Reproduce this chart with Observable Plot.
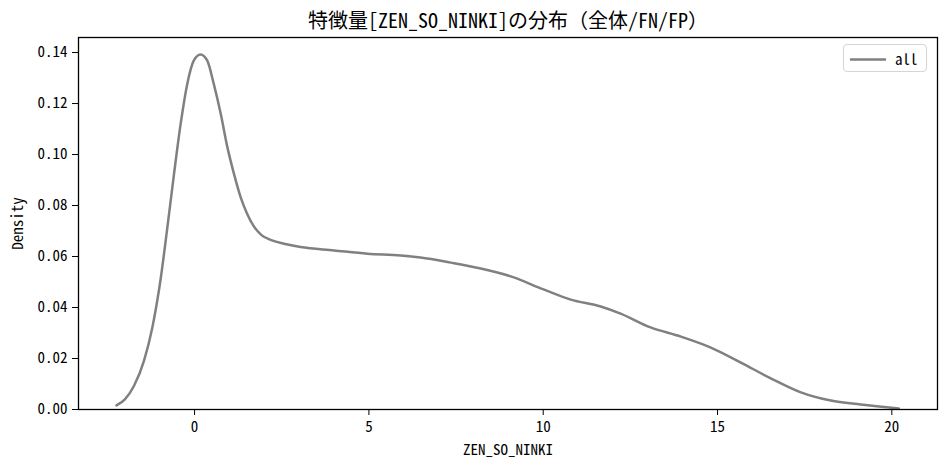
<!DOCTYPE html>
<html>
<head>
<meta charset="utf-8">
<script src="https://cdn.jsdelivr.net/npm/d3@7"></script>
<script src="https://cdn.jsdelivr.net/npm/@observablehq/plot@0.6"></script>
<style>
  html, body { margin: 0; padding: 0; background: #fff; }
  #wrap { position: relative; width: 948px; height: 467px; }
  .mono { font-family: "Noto Sans Mono CJK JP", "DejaVu Sans Mono", "Noto Sans CJK JP", monospace; }
  #legend { position: absolute; left: 843px; top: 44px; width: 84px; height: 28px;
    border: 1px solid #d5d5d5; border-radius: 4px; box-sizing: border-box; background: rgba(255,255,255,0.8); }
  #legend svg { position: absolute; left: 0; top: 0; }
  #legend span { position: absolute; left: 51px; top: 3px; font-size: 15px; color: #000; }
</style>
</head>
<body>
<div id="wrap" class="mono"></div>
<script>
// KDE curve of ZEN_SO_NINKI
const xs = [-2.24, -2.0, -1.74, -1.45, -1.21, -0.98, -0.78, -0.59, -0.40, -0.21, -0.02, 0.17, 0.36, 0.55, 0.75, 0.94, 1.13, 1.32, 1.50, 1.70, 1.92, 2.20, 2.60, 3.04, 4.0, 4.96, 5.91, 6.48, 7.35, 8.21, 9.07, 10.01, 10.79, 11.65, 12.22, 13.08, 13.95, 14.81, 15.67, 16.53, 17.39, 18.25, 19.11, 20.2];
const density = [0.0016, 0.0040, 0.0092, 0.0192, 0.0323, 0.0506, 0.0715, 0.0924, 0.112, 0.1277, 0.1369, 0.1392, 0.1369, 0.1277, 0.116, 0.1029, 0.0924, 0.0833, 0.0770, 0.0718, 0.0684, 0.0664, 0.0649, 0.0637, 0.0624, 0.0611, 0.0604, 0.0596, 0.0576, 0.0553, 0.0522, 0.0471, 0.0431, 0.0404, 0.0376, 0.0322, 0.0286, 0.0243, 0.0184, 0.0122, 0.0067, 0.0035, 0.002, 0.0004];
const xTicks = [0, 5, 10, 15, 20];
const yTicks = [0, 0.02, 0.04, 0.06, 0.08, 0.10, 0.12, 0.14];
const seriesName = "all";
const title = "特徴量[ZEN_SO_NINKI]の分布（全体/FN/FP）";
const xLabel = "ZEN_SO_NINKI";
const yLabel = "Density";

const data = xs.map((x, i) => ({x, y: density[i]}));

const chart = Plot.plot({
  width: 948,
  height: 467,
  marginLeft: 78,
  marginRight: 11,
  marginTop: 37,
  marginBottom: 58,
  style: {fontFamily: '"Noto Sans Mono CJK JP", "DejaVu Sans Mono", "Noto Sans CJK JP", monospace', fontSize: "15px", color: "#000", background: "#fff"},
  x: {domain: [-3.33, 21.31], ticks: xTicks, tickFormat: d => String(d)},
  y: {domain: [0, 0.1459], ticks: yTicks, tickFormat: d3.format(".2f")},
  marks: [
    Plot.axisX({ticks: xTicks, tickSize: 6, tickPadding: 6, label: xLabel, labelAnchor: "center", labelArrow: "none", labelOffset: 45, fontSize: 15}),
    Plot.axisY({ticks: yTicks, tickSize: 6, tickPadding: 5, tickFormat: d3.format(".2f"), label: yLabel, labelAnchor: "center", labelArrow: "none", labelOffset: 66, fontSize: 15}),
    Plot.line(data, {x: "x", y: "y", stroke: "#808080", strokeWidth: 2.5, curve: "monotone-x"}),
    Plot.frame({stroke: "#000", strokeWidth: 1.3}),
    Plot.text([title], {text: d => d, frameAnchor: "top", dy: -24, fontSize: 20, fill: "#000"})
  ]
});
document.getElementById("wrap").appendChild(chart);

const leg = document.createElement("div");
leg.id = "legend";
leg.innerHTML = `<svg width="84" height="28"><line x1="6" x2="42" y1="14.5" y2="14.5" stroke="#808080" stroke-width="2.5"/></svg><span>${seriesName}</span>`;
document.getElementById("wrap").appendChild(leg);
</script>
</body>
</html>
